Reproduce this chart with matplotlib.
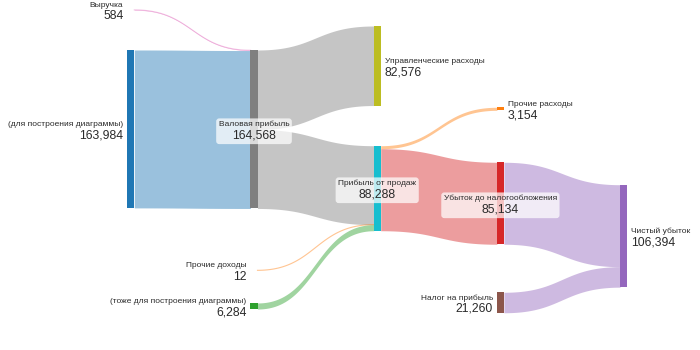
import numpy as np
import matplotlib
matplotlib.use('Agg')
import matplotlib.pyplot as plt
from matplotlib.patches import Rectangle, FancyBboxPatch
from matplotlib.transforms import Bbox

plt.rcParams['font.family'] = ['Liberation Sans', 'DejaVu Sans']

# nodes
node_names = ['Выручка', '(для построения диаграммы)', 'Валовая прибыль',
              'Управленческие расходы', 'Прибыль от продаж', 'Прочие расходы',
              'Убыток до налогообложения', 'Прочие доходы',
              '(тоже для построения диаграммы)', 'Налог на прибыль', 'Чистый убыток']
node_colors = ['#e377c2', '#1f77b4', '#7f7f7f', '#bcbd22', '#17becf', '#ff7f0e',
               '#d62728', '#ff7f0e', '#2ca02c', '#8c564b', '#9467bd']

# links
link_source = [0, 1, 2, 2, 4, 4, 7, 8, 6, 9]
link_target = [2, 2, 3, 4, 5, 6, 4, 4, 10, 10]
link_values = [584, 163984, 82576, 81992, 3154, 85134, 12, 6284, 85134, 21260]
link_colors = ['#e377c2', '#1f77b4', '#7f7f7f', '#7f7f7f', '#ff7f0e', '#d62728',
               '#ff7f0e', '#2ca02c', '#9467bd', '#9467bd']

# layout (column index, top of node in value units, label placement)
node_column = [0, 0, 1, 2, 2, 3, 3, 1, 1, 3, 4]
node_top = [10000, 51900, 51900, 27000, 151300, 111400, 168500,
            280700, 314600, 303500, 191800]
label_side = ['left', 'left', 'center', 'right', 'center', 'right', 'center',
              'left', 'left', 'left', 'right']

PX_PER_UNIT = 0.000963
COL_PX = 123.2
LEFT_PX = 127.3
NODE_W = 7 / COL_PX
LINK_ALPHA = 0.45
text_color = '#2a2a2a'

n = len(node_names)
inflow = np.zeros(n)
outflow = np.zeros(n)
for s, t, v in zip(link_source, link_target, link_values):
    outflow[s] += v
    inflow[t] += v
node_values = np.maximum(inflow, outflow)

fig = plt.figure(figsize=(7, 3.5), dpi=100)
ax = fig.add_axes([0, 0, 1, 1])
ax.set_xlim(-LEFT_PX / COL_PX, (700 - LEFT_PX) / COL_PX)
ax.set_ylim(350 / PX_PER_UNIT, 0)
ax.axis('off')

out_pos = list(node_top)
in_pos = list(node_top)
tt = np.linspace(0, 1, 100)


def bez(a, b):
    return (1 - tt) ** 3 * a + 3 * (1 - tt) ** 2 * tt * a + 3 * (1 - tt) * tt ** 2 * b + tt ** 3 * b


for s, t, v, c in zip(link_source, link_target, link_values, link_colors):
    x0 = node_column[s] + NODE_W
    x1 = node_column[t]
    xm = (x0 + x1) / 2
    bx = (1 - tt) ** 3 * x0 + 3 * (1 - tt) ** 2 * tt * xm + 3 * (1 - tt) * tt ** 2 * xm + tt ** 3 * x1
    y0 = out_pos[s]
    y1 = in_pos[t]
    ax.fill_between(bx, bez(y0, y1), bez(y0 + v, y1 + v), color=c, alpha=LINK_ALPHA, lw=0, zorder=1)
    if v * PX_PER_UNIT < 1:
        ax.plot(bx, bez(y0 + v / 2, y1 + v / 2), color=c, alpha=LINK_ALPHA, lw=0.8, zorder=1)
    out_pos[s] += v
    in_pos[t] += v

for i in range(n):
    ax.add_patch(Rectangle((node_column[i], node_top[i]), NODE_W, node_values[i],
                           facecolor=node_colors[i], edgecolor='none', zorder=2))

boxed = []
for i in range(n):
    yc = node_top[i] + node_values[i] / 2
    if label_side[i] == 'right':
        x, dx, ha = node_column[i] + NODE_W, 2.9, 'left'
    elif label_side[i] == 'left':
        x, dx, ha = node_column[i], -2.9, 'right'
    else:
        x, dx, ha = node_column[i] + NODE_W / 2, 0, 'center'
    t1 = ax.annotate(node_names[i], (x, yc), xytext=(dx, 3.3), textcoords='offset points',
                     ha=ha, va='center', fontsize=6.0, color=text_color, zorder=5)
    t2 = ax.annotate(f'{int(node_values[i]):,}', (x, yc), xytext=(dx, -4.6),
                     textcoords='offset points', ha=ha, va='center', fontsize=8.8,
                     color=text_color, zorder=5)
    if label_side[i] == 'center':
        boxed.append((t1, t2))

fig.canvas.draw()
r = fig.canvas.get_renderer()
for t1, t2 in boxed:
    bb = Bbox.union([t1.get_window_extent(r), t2.get_window_extent(r)])
    box = FancyBboxPatch((bb.x0, bb.y0), bb.width, bb.height,
                         boxstyle='round,pad=2.5,rounding_size=3',
                         transform=None, facecolor='white', alpha=0.72,
                         edgecolor='none', zorder=4)
    ax.add_patch(box)

fig.savefig('out.png', dpi=100, facecolor='white')
